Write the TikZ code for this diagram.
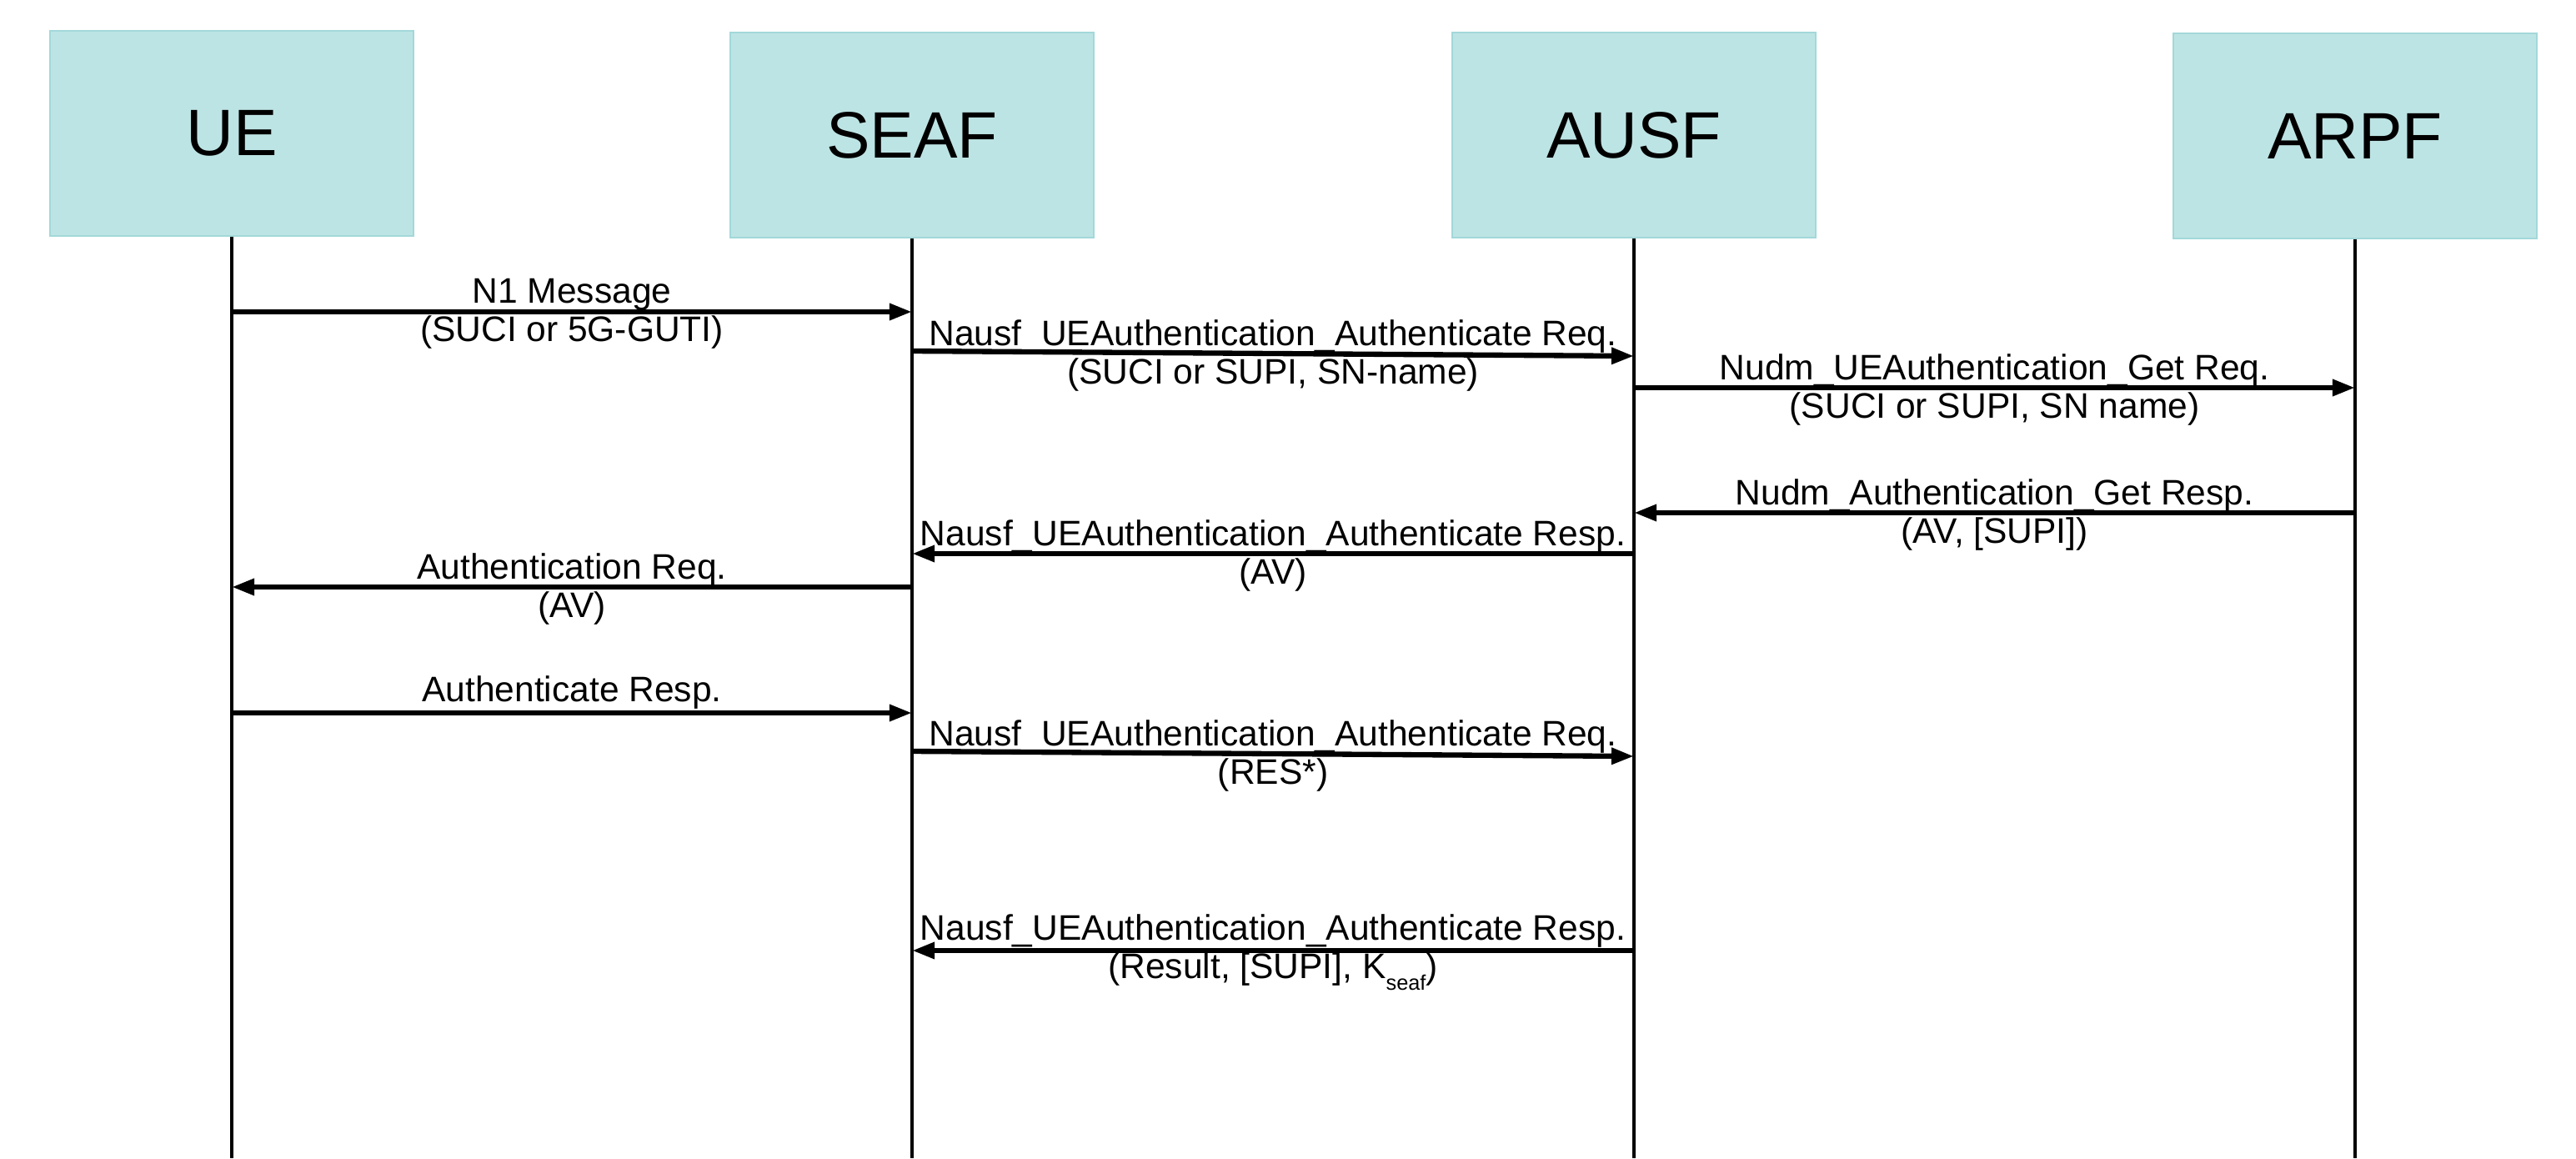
\documentclass[tikz,border=0pt]{standalone}
\usepackage{fontspec}
\setmainfont{Liberation Sans}
\usetikzlibrary{arrows.meta, positioning}
\definecolor{entityfill}{RGB}{189, 228, 228}
\definecolor{entityline}{RGB}{163, 216, 218}

\begin{document}
\begin{tikzpicture}[
      entity/.style={rectangle, draw=entityline, fill=entityfill, line width=0.5pt, minimum width=4.36cm, minimum height=2.46cm, inner sep=0pt, font=\fontsize{22.4}{26}\selectfont},
      life/.style={line width=1pt},
      msg/.style={-{Triangle[length=7.7pt, width=5.4pt]}, line width=1.8pt},
      lbl/.style={align=center, inner sep=0pt, yshift=-0.7pt, font=\fontsize{12.1}{13.1}\selectfont}
    ]
      \useasboundingbox (0, 0) rectangle (30.90, -13.89);

      \node[entity] (UE) at (2.78, -1.60) {UE};
      \node[entity] (SEAF) at (10.94, -1.62) {SEAF};
      \node[entity] (AUSF) at (19.60, -1.62) {AUSF};
      \node[entity] (ARPF) at (28.25, -1.63) {ARPF};

      \coordinate (bottom) at (0, -13.89);
      \draw[life] (UE.south) -- (UE.south |- bottom);
      \draw[life] (SEAF.south) -- (SEAF.south |- bottom);
      \draw[life] (AUSF.south) -- (AUSF.south |- bottom);
      \draw[life] (ARPF.south) -- (ARPF.south |- bottom);

      \coordinate (r1) at (0, -3.74);
      \coordinate (r2a) at (0, -4.21);
      \coordinate (r2b) at (0, -4.27);
      \coordinate (r3) at (0, -4.65);
      \coordinate (r4) at (0, -6.15);
      \coordinate (r5) at (0, -6.64);
      \coordinate (r6) at (0, -7.04);
      \coordinate (r7) at (0, -8.55);
      \coordinate (r8a) at (0, -9.01);
      \coordinate (r8b) at (0, -9.07);
      \coordinate (r9) at (0, -11.40);

      \draw[msg] (UE |- r1) -- (SEAF |- r1) node[lbl, midway] (m1) {N1 Message\\(SUCI or 5G-GUTI)};
      \draw[msg] (SEAF |- r2a) -- (AUSF |- r2b) node[lbl, midway] (m2) {Nausf\_UEAuthentication\_Authenticate Req.\\(SUCI or SUPI, SN-name)};
      \draw[msg] (AUSF |- r3) -- (ARPF |- r3) node[lbl, midway] (m3) {Nudm\_UEAuthentication\_Get Req.\\(SUCI or SUPI, SN name)};
      \draw[msg] (ARPF |- r4) -- (AUSF |- r4) node[lbl, midway] (m4) {Nudm\_Authentication\_Get Resp.\\(AV, [SUPI])};
      \draw[msg] (AUSF |- r5) -- (SEAF |- r5) node[lbl, midway] (m5) {Nausf\_UEAuthentication\_Authenticate Resp.\\(AV)};
      \draw[msg] (SEAF |- r6) -- (UE |- r6) node[lbl, midway] (m6) {Authentication Req.\\(AV)};
      \draw[msg] (UE |- r7) -- (SEAF |- r7) node[lbl, midway, above=1pt] (m7) {Authenticate Resp.};
      \draw[msg] (SEAF |- r8a) -- (AUSF |- r8b) node[lbl, midway] (m8) {Nausf\_UEAuthentication\_Authenticate Req.\\(RES*)};
      \draw[msg] (AUSF |- r9) -- (SEAF |- r9) node[lbl, midway] (m9) {Nausf\_UEAuthentication\_Authenticate Resp.\\(Result, [SUPI], K\raisebox{-4pt}{\fontsize{7.2}{8}\selectfont seaf})};
    \end{tikzpicture}
\end{document}
